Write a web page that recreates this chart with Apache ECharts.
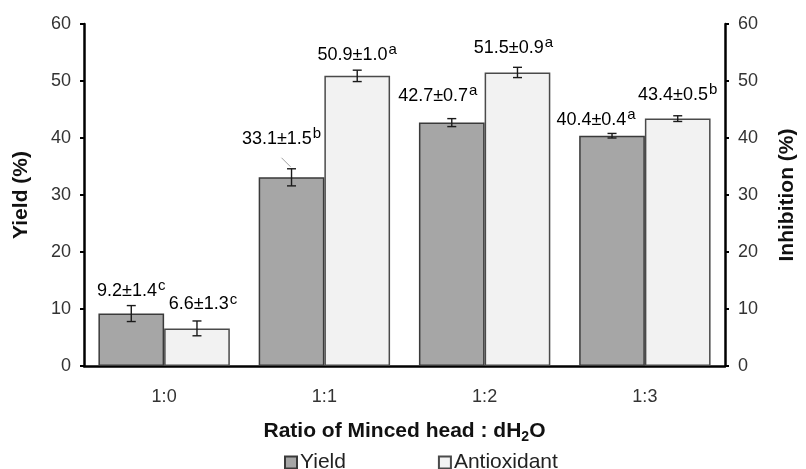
<!DOCTYPE html>
<html>
<head>
<meta charset="utf-8">
<script src="https://cdn.jsdelivr.net/npm/echarts@6/dist/echarts.min.js"></script>
<style>html,body{margin:0;padding:0;background:#fff;}#c{width:806px;height:469px;}</style>
</head>
<body>
<div id="c"></div>
<script>
const categories = ['1:0', '1:1', '1:2', '1:3'];
const yieldValues = [9.2, 33.1, 42.7, 40.4];
const yieldErrors = [1.4, 1.5, 0.7, 0.4];
const yieldLetters = ['c', 'b', 'a', 'a'];
const antioxValues = [6.6, 50.9, 51.5, 43.4];
const antioxErrors = [1.3, 1.0, 0.9, 0.5];
const antioxLetters = ['c', 'a', 'a', 'b'];
const yTicks = [0, 10, 20, 30, 40, 50, 60];

// label placement styling (dx, gap above error bar, leader line)
const yieldLabelStyle = [[0, 7, 0], [-10, 22, 1], [-14, 15, 0], [-16, 6, 0]];
const antioxLabelStyle = [[6, 9, 0], [0, 8, 0], [-4, 12, 0], [0, 13, 0]];

const FONT = 'Liberation Sans, Arial, sans-serif';
const CAT_GAP = 0.18;

function errSeries(values, errors, letters, labelStyle, side, axisIdx) {
  return {
    type: 'custom',
    yAxisIndex: axisIdx,
    z: 10,
    data: values.map((v, i) => [i, v, errors[i]]),
    encode: { x: 0, y: 1 },
    renderItem: function (params, api) {
      const cat = api.value(0), v = api.value(1), e = api.value(2);
      const band = api.size([1, 0])[0];
      const barW = band * (1 - CAT_GAP) / 2;
      const base = api.coord([cat, v]);
      const x = base[0] + side * barW / 2;
      const top = api.coord([cat, v + e])[1];
      const bot = api.coord([cat, v - e])[1];
      const cap = 4.5;
      const st = { stroke: '#1a1a1a', lineWidth: 1.4 };
      const d = params.dataIndex;
      const ls = labelStyle[d];
      const children = [
        { type: 'line', shape: { x1: x, y1: top, x2: x, y2: bot }, style: st },
        { type: 'line', shape: { x1: x - cap, y1: top, x2: x + cap, y2: top }, style: st },
        { type: 'line', shape: { x1: x - cap, y1: bot, x2: x + cap, y2: bot }, style: st },
        {
          type: 'text',
          style: {
            x: x + ls[0],
            y: top - ls[1] + 5,
            text: '{v|' + v.toFixed(1) + '±' + e.toFixed(1) + '}{s|' + letters[d] + '}',
            align: 'center',
            verticalAlign: 'bottom',
            rich: {
              v: { fontSize: 18, fontFamily: FONT, color: '#222' },
              s: { fontSize: 15, fontFamily: FONT, color: '#222', padding: [0, 0, 10, 1] }
            }
          }
        }
      ];
      if (ls[2]) {
        children.push({ type: 'line', shape: { x1: x - 10, y1: top - 11, x2: x - 1, y2: top - 2 }, style: { stroke: '#a0a0a0', lineWidth: 1 } });
      }
      return { type: 'group', children: children };
    }
  };
}

const chart = echarts.init(document.getElementById('c'), null, { renderer: 'canvas' });
const yAxisCommon = {
  type: 'value', min: yTicks[0], max: yTicks[yTicks.length - 1], interval: yTicks[1] - yTicks[0],
  nameLocation: 'middle',
  nameRotate: 90,
  nameTextStyle: { fontSize: 21, fontWeight: 'bold', fontFamily: FONT, color: '#111' },
  axisLine: { show: true, lineStyle: { color: '#000', width: 2.5 } },
  axisTick: { show: true, length: 4, lineStyle: { color: '#000', width: 2 } },
  axisLabel: { fontSize: 18, fontFamily: FONT, color: '#333', margin: 13 },
  splitLine: { show: false }
};
chart.setOption({
  animation: false,
  backgroundColor: '#fff',
  grid: { left: 84, right: 77, top: 24, bottom: 103 },
  legend: {
    top: 447, left: 279,
    icon: 'rect',
    itemWidth: 12, itemHeight: 12, itemGap: 92,
    textStyle: { fontSize: 21, fontFamily: FONT, color: '#222', padding: [0, 0, 0, -2] },
    data: ['Yield', 'Antioxidant']
  },
  xAxis: {
    type: 'category', data: categories,
    name: '{b|Ratio of Minced head : dH}{sub|2}{b|O}',
    nameLocation: 'middle', nameGap: 52,
    nameTextStyle: {
      rich: {
        b: { fontSize: 21, fontWeight: 'bold', fontFamily: FONT, color: '#111' },
        sub: { fontSize: 14, fontWeight: 'bold', fontFamily: FONT, color: '#111', padding: [12, 0, 0, 0] }
      }
    },
    axisLine: { lineStyle: { color: '#000', width: 2.5 } },
    axisTick: { show: false },
    axisLabel: { fontSize: 18, fontFamily: FONT, color: '#333', margin: 22 }
  },
  yAxis: [
    Object.assign({}, yAxisCommon, { name: 'Yield (%)', nameGap: 52, position: 'left' }),
    Object.assign({}, yAxisCommon, { name: 'Inhibition (%)', nameGap: 52, position: 'right' })
  ],
  series: [
    {
      name: 'Yield', type: 'bar', yAxisIndex: 0, data: yieldValues,
      barGap: '0%', barCategoryGap: (CAT_GAP * 100) + '%',
      itemStyle: { color: '#a6a6a6', borderColor: '#3a3a3a', borderWidth: 1.5 }
    },
    {
      name: 'Antioxidant', type: 'bar', yAxisIndex: 1, data: antioxValues,
      barGap: '0%', barCategoryGap: (CAT_GAP * 100) + '%',
      itemStyle: { color: '#f2f2f2', borderColor: '#4a4a4a', borderWidth: 1.5 }
    },
    errSeries(yieldValues, yieldErrors, yieldLetters, yieldLabelStyle, -1, 0),
    errSeries(antioxValues, antioxErrors, antioxLetters, antioxLabelStyle, 1, 1)
  ]
});
</script>
</body>
</html>
